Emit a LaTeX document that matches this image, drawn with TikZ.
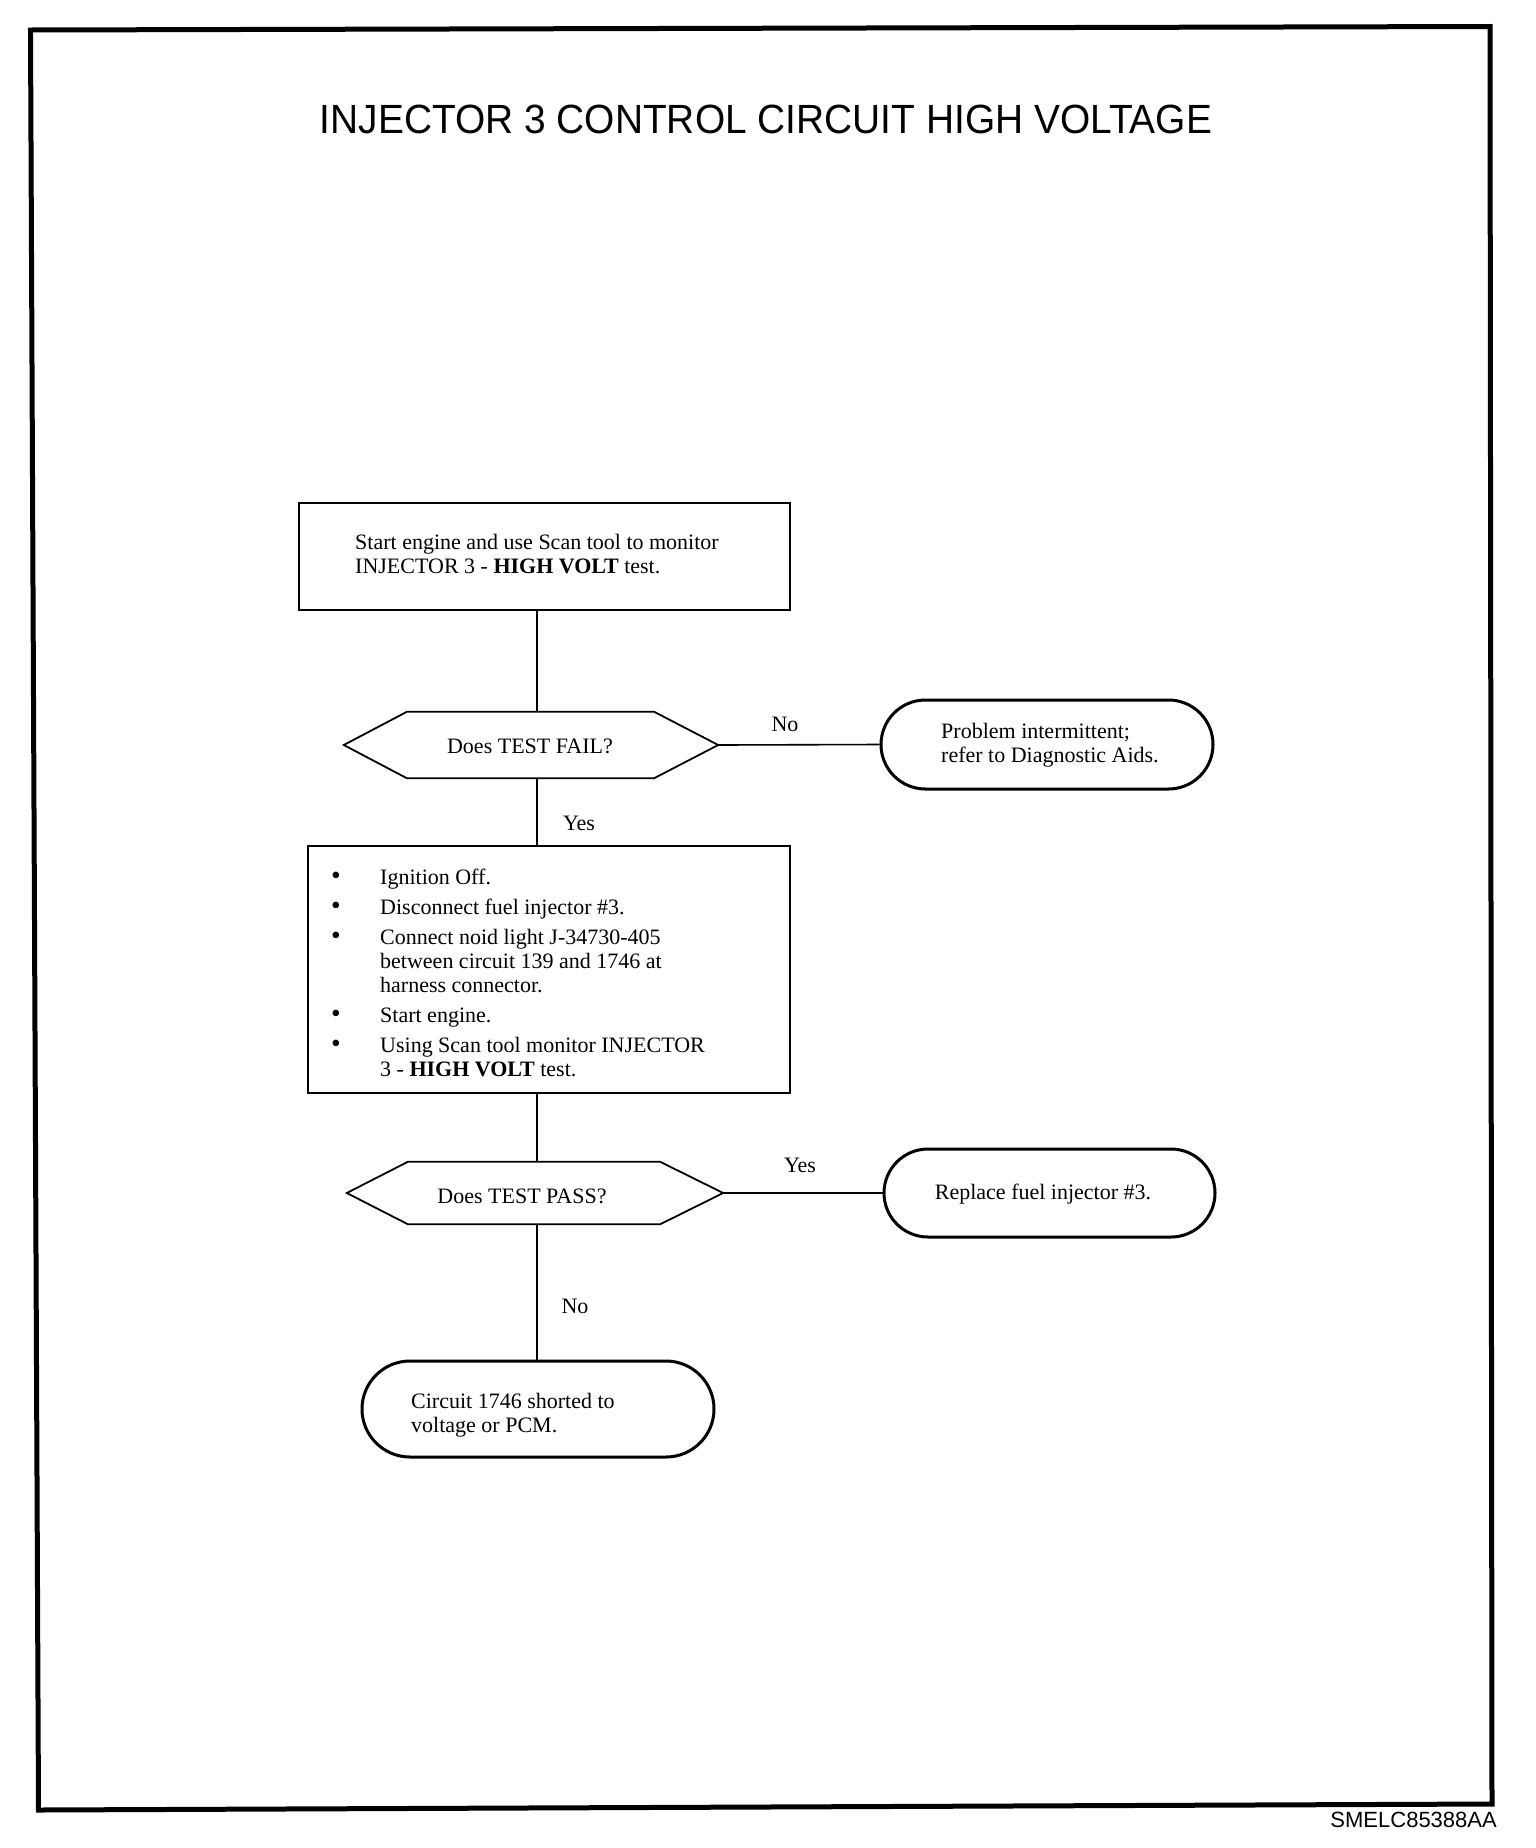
\documentclass[tikz,border=0pt]{standalone}
\usepackage{fontspec}
\setmainfont{Liberation Serif}
\setsansfont{Liberation Sans}
\usepackage{graphicx}
\usetikzlibrary{shapes.misc}
\newcommand\bitem[1]{\par\noindent\hangindent=49pt\hangafter=1\makebox[49pt][l]{\scalebox{1.25}{\textbullet}}#1\par}
\tikzset{
 boxshape/.style={draw, line width=2pt, rectangle, inner sep=0pt},
 ovalshape/.style={draw, line width=3pt, rounded rectangle, inner sep=0pt},
 hexbox/.style={rectangle, inner sep=0pt},
 hexline/.style={line width=1.8pt, line join=miter},
 conn/.style={line width=1.6pt},
 txt/.style={inner sep=0pt, anchor=base west, font=\fontsize{22}{24}\selectfont},
 lbl/.style={inner sep=0pt, font=\fontsize{22}{24}\selectfont},
 frameline/.style={line width=5pt, line join=miter},
}
\begin{document}
\begin{tikzpicture}[x=1pt, y=-1pt]
\useasboundingbox (0,0) rectangle (1536,1848);
\fill[white] (0,0) rectangle (1536,1848);
% frame
\draw[frameline] (30.5,30) -- (1490,26.5) -- (1492,1804) -- (38.5,1810) -- cycle;
% title
\node[inner sep=0pt] (title) at (766,119) {\resizebox{892pt}{28.5pt}{\sffamily INJECTOR 3 CONTROL CIRCUIT HIGH VOLTAGE}};
\node[inner sep=0pt, anchor=base east, font=\sffamily\fontsize{22}{24}\selectfont] (code) at (1497,1827) {SMELC85388AA};
% shapes
\node[boxshape, minimum width=491pt, minimum height=107pt] (b1) at (544.5,556.5) {};
\node[hexbox, minimum width=374pt, minimum height=66pt] (d1) at (531,745) {};
\draw[hexline] (d1.west) -- ([xshift=63pt]d1.north west) -- ([xshift=-64pt]d1.north east) -- (d1.east) -- ([xshift=-64pt]d1.south east) -- ([xshift=63pt]d1.south west) -- cycle;
\node[ovalshape, minimum width=332pt, minimum height=89pt] (o1) at (1047,744.5) {};
\node[boxshape, minimum width=482pt, minimum height=247pt] (b2) at (549,969.5) {};
\node[hexbox, minimum width=376pt, minimum height=62pt] (d2) at (535,1193) {};
\draw[hexline] (d2.west) -- ([xshift=61pt]d2.north west) -- ([xshift=-63pt]d2.north east) -- (d2.east) -- ([xshift=-63pt]d2.south east) -- ([xshift=61pt]d2.south west) -- cycle;
\node[ovalshape, minimum width=331pt, minimum height=88pt] (o2) at (1049.5,1193) {};
\node[ovalshape, minimum width=352pt, minimum height=96pt] (o3) at (538,1409) {};
% texts
\node[txt] (t1) at (355,549) {\parbox[t]{420pt}{\raggedright Start engine and use Scan tool to monitor\\INJECTOR 3 - \textbf{HIGH VOLT} test.}};
\node[lbl] (t2) at (530,746) {Does TEST FAIL?};
\node[txt] (t3) at (941,738) {\parbox[t]{260pt}{\raggedright Problem intermittent;\\refer to Diagnostic Aids.}};
\node[txt] (t4) at (331,884) {\parbox[t]{440pt}{\setlength{\parskip}{6pt}%
\bitem{Ignition Off.}%
\bitem{Disconnect fuel injector \#3.}%
\bitem{Connect noid light J-34730-405\newline between circuit 139 and 1746 at\newline harness connector.}%
\bitem{Start engine.}%
\bitem{Using Scan tool monitor INJECTOR\newline 3 - \textbf{HIGH VOLT} test.}}};
\node[lbl] (t5) at (522,1196) {Does TEST PASS?};
\node[lbl] (t6) at (1043,1194) {Replace fuel injector \#3.};
\node[txt] (t7) at (411,1408) {\parbox[t]{280pt}{\raggedright Circuit 1746 shorted to\\voltage or PCM.}};
% labels
\node[lbl] (l1) at (785,724) {No};
\node[lbl] (l2) at (579,823) {Yes};
\node[lbl] (l3) at (800,1165) {Yes};
\node[lbl] (l4) at (575,1306) {No};
% connectors
\coordinate (sp) at (537,0);
\draw[conn] (b1.south -| sp) -- (d1.north -| sp);
\draw[conn] (d1.south -| sp) -- (b2.north -| sp);
\draw[conn] (b2.south -| sp) -- (d2.north -| sp);
\draw[conn] (d2.south -| sp) -- (o3.north -| sp);
\draw[conn] (d1.east) -- (o1.west);
\draw[conn] (d2.east) -- (o2.west);
\end{tikzpicture}
\end{document}
